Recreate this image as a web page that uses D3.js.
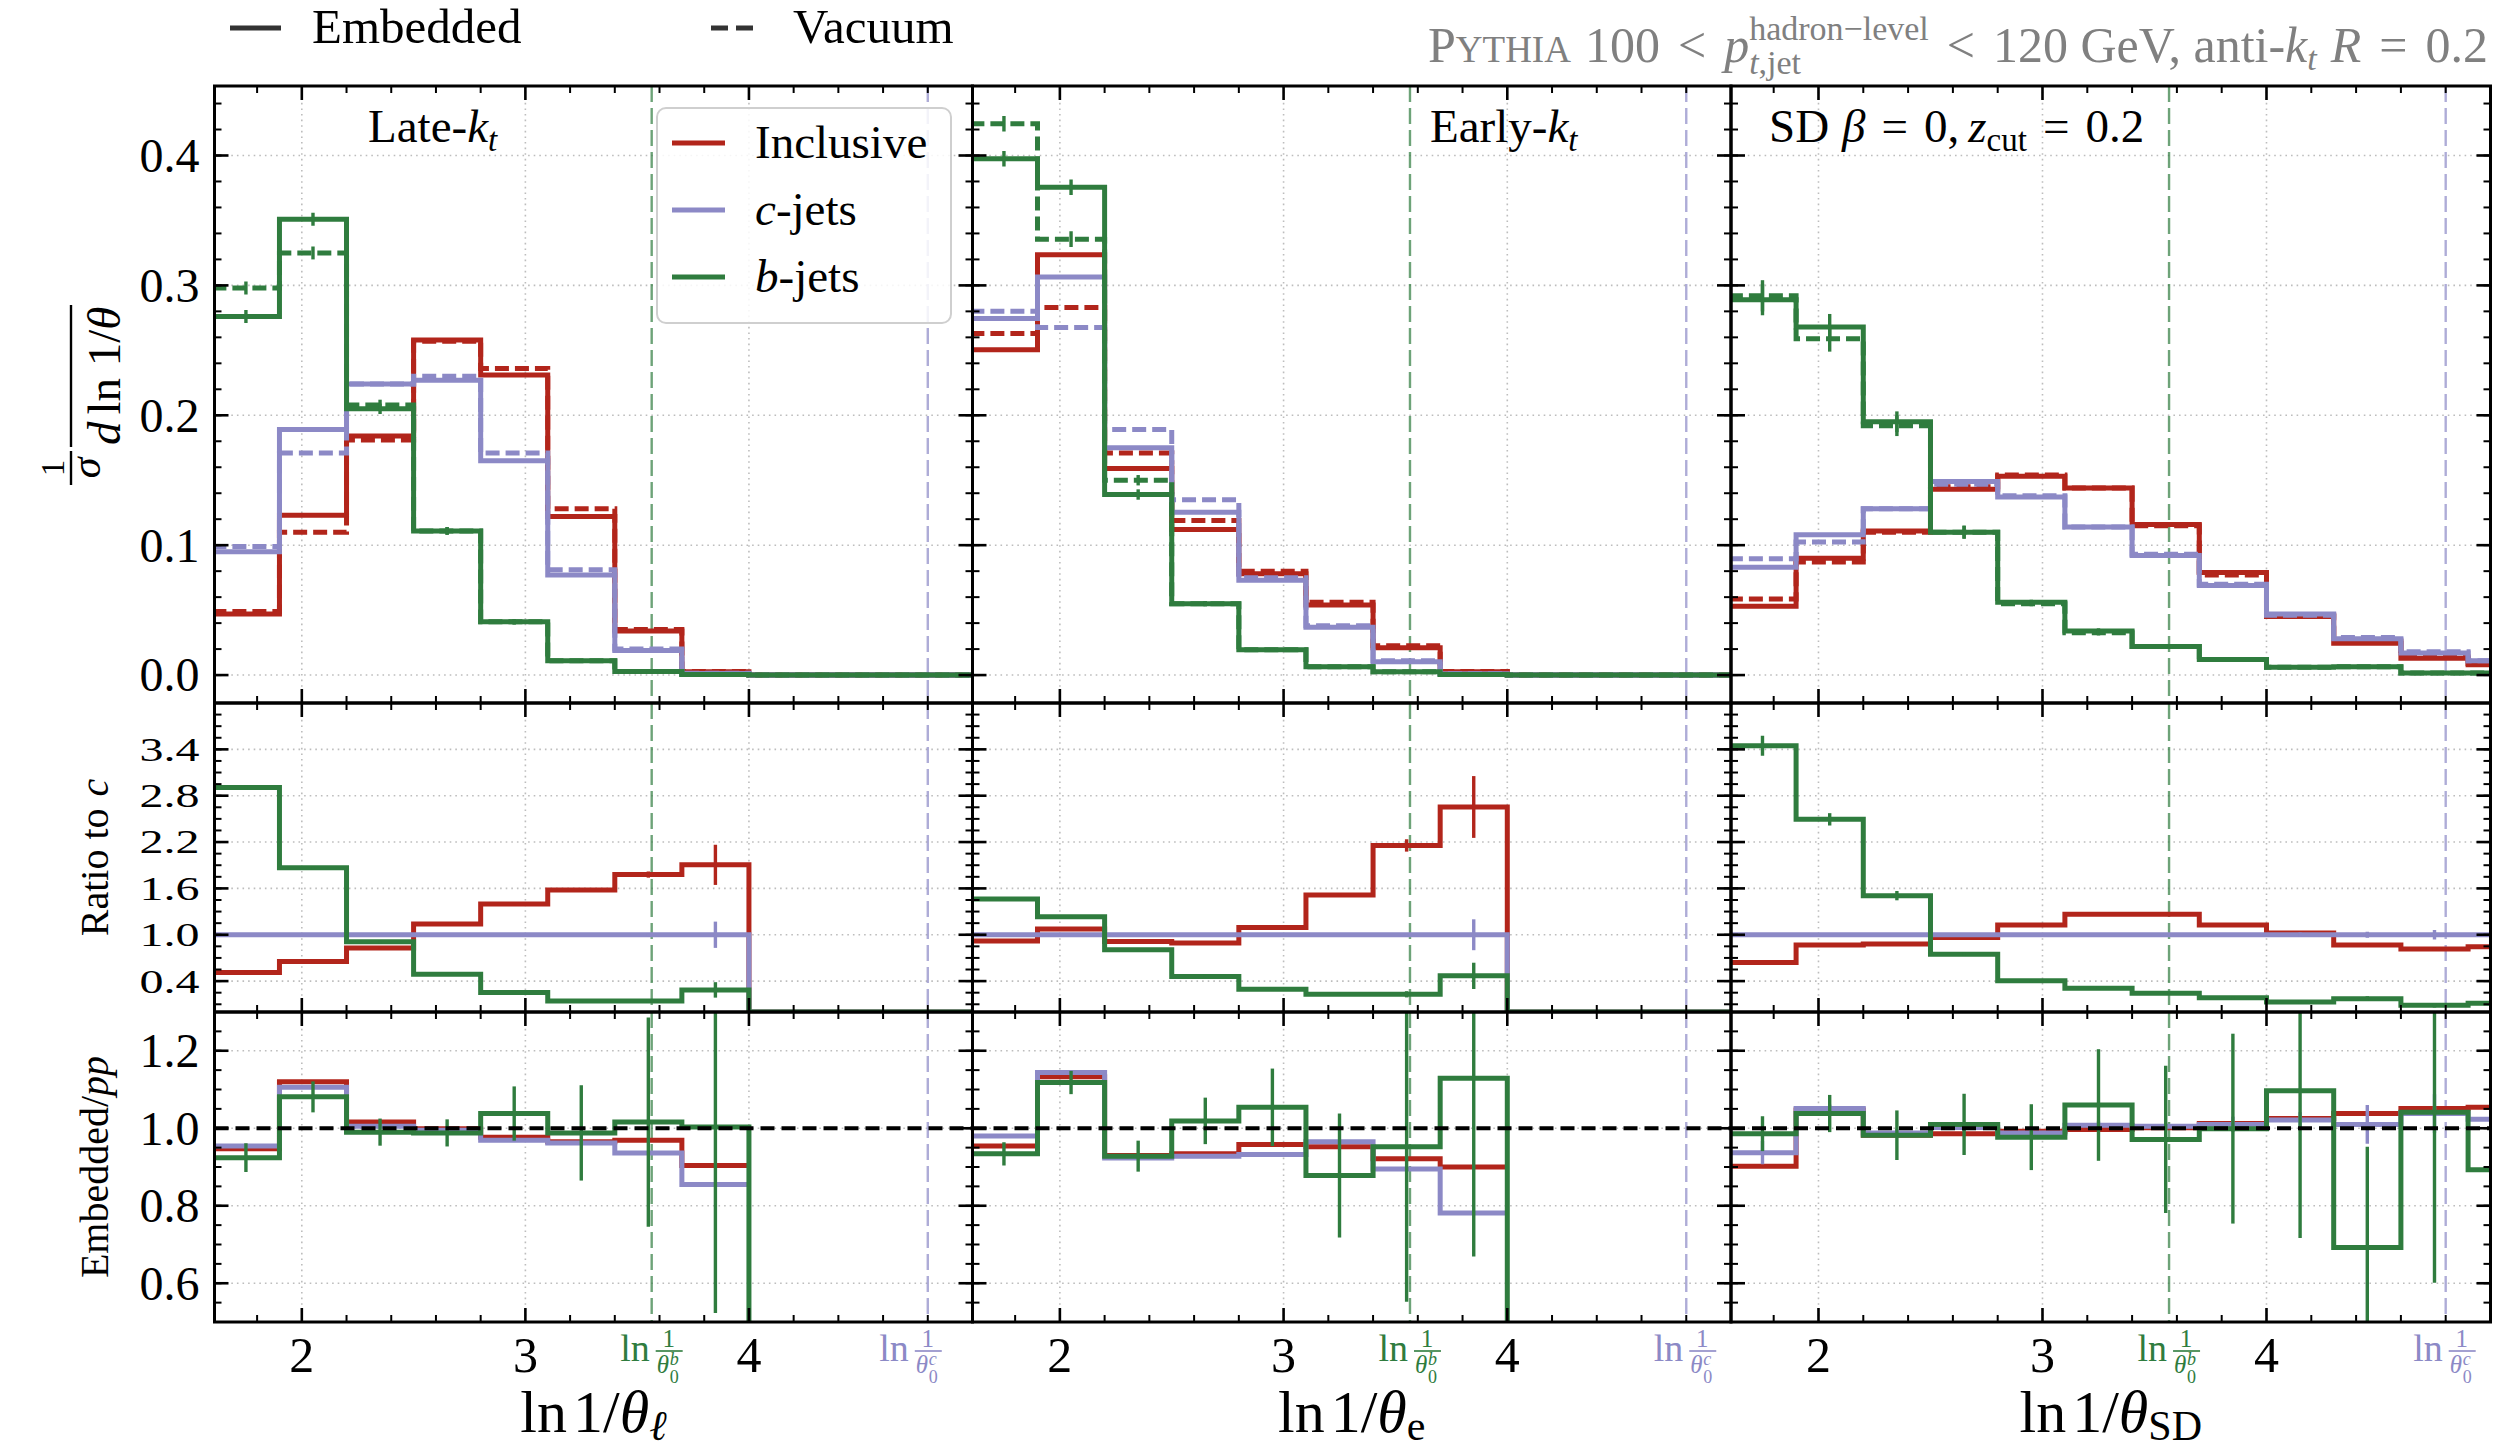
<!DOCTYPE html>
<html>
<head>
<meta charset="utf-8">
<script src="https://cdn.jsdelivr.net/npm/d3@7"></script>
<style>
  body { margin: 0; background: #fff; }
  svg { display: block; }
  text { font-family: "Liberation Serif", serif; }
</style>
</head>
<body>
<svg id="chart" width="2511" height="1455"></svg>
<script>
// bins in ln 1/theta, R = 0.2 so the axis starts at ln 5
const binEdges = [1.6, 1.9, 2.2, 2.5, 2.8, 3.1, 3.4, 3.7, 4.0, 4.3, 4.6, 4.9, 5.2];
const xDomain = [Math.log(5), 5.0];
const lnThetaB = 3.565, lnThetaC = 4.80;
const xMajor = [2, 3, 4];
const xMinor = [1.8, 2.2, 2.4, 2.6, 2.8, 3.2, 3.4, 3.6, 3.8, 4.2, 4.4, 4.6, 4.8];

// top row: normalised distributions (Embedded solid, Vacuum dashed)
const lateIncEmb  = [0.047, 0.123, 0.184, 0.258, 0.231, 0.122, 0.034, 0.0025, 0, 0, 0, 0];
const lateIncVac  = [0.049, 0.110, 0.181, 0.257, 0.236, 0.128, 0.035, 0.0027, 0, 0, 0, 0];
const lateCEmb    = [0.095, 0.189, 0.224, 0.227, 0.165, 0.077, 0.019, 0.0013, 0, 0, 0, 0];
const lateCVac    = [0.099, 0.171, 0.224, 0.230, 0.171, 0.081, 0.020, 0.0014, 0, 0, 0, 0];
const lateBEmb    = [0.276, 0.351, 0.205, 0.111, 0.041, 0.011, 0.0027, 0.0004, 0, 0, 0, 0];
const lateBVac    = [0.298, 0.325, 0.208, 0.111, 0.041, 0.011, 0.0027, 0.0004, 0, 0, 0, 0];
const lateBErr    = [0.005, 0.005, 0.004, 0.003, 0.002, 0.001, 0, 0, 0, 0, 0, 0];

const earlyIncEmb = [0.2505, 0.3235, 0.159, 0.112, 0.078, 0.054, 0.021, 0.0025, 0, 0, 0, 0];
const earlyIncVac = [0.263, 0.283, 0.171, 0.119, 0.080, 0.056, 0.0226, 0.0027, 0, 0, 0, 0];
const earlyCEmb   = [0.2746, 0.3065, 0.175, 0.1254, 0.073, 0.0368, 0.0102, 0.001, 0, 0, 0, 0];
const earlyCVac   = [0.280, 0.2675, 0.189, 0.135, 0.075, 0.038, 0.011, 0.001, 0, 0, 0, 0];
const earlyBEmb   = [0.3975, 0.3755, 0.139, 0.055, 0.0195, 0.0065, 0.0025, 0.0005, 0, 0, 0, 0];
const earlyBVac   = [0.4245, 0.3356, 0.150, 0.055, 0.0195, 0.0065, 0.0025, 0.0005, 0, 0, 0, 0];
const earlyBErr   = [0.006, 0.006, 0.004, 0.002, 0.001, 0, 0, 0, 0, 0, 0, 0];

const sdIncEmb    = [0.053, 0.090, 0.111, 0.143, 0.153, 0.144, 0.116, 0.079, 0.045, 0.0245, 0.013, 0.008];
const sdIncVac    = [0.0585, 0.087, 0.110, 0.145, 0.154, 0.144, 0.115, 0.077, 0.046, 0.026, 0.014, 0.009];
const sdCEmb      = [0.083, 0.108, 0.128, 0.149, 0.137, 0.114, 0.092, 0.069, 0.047, 0.028, 0.017, 0.011];
const sdCVac      = [0.0895, 0.1025, 0.128, 0.147, 0.138, 0.114, 0.093, 0.070, 0.046, 0.029, 0.018, 0.011];
const sdBEmb      = [0.289, 0.268, 0.195, 0.110, 0.056, 0.034, 0.022, 0.012, 0.006, 0.0065, 0.0015, 0.0015];
const sdBVac      = [0.292, 0.259, 0.192, 0.110, 0.055, 0.0325, 0.022, 0.012, 0.006, 0.0065, 0.0015, 0.0015];
const sdBErr      = [0.012, 0.010, 0.008, 0.005, 0.002, 0.002, 0.001, 0, 0, 0, 0, 0];

// middle row: ratio to c-jets
const lateRatioInc     = [0.511, 0.654, 0.827, 1.139, 1.398, 1.58, 1.779, 1.905, 0, 0, 0, 0];
const lateRatioIncErr  = [0.01, 0.01, 0.01, 0.01, 0.01, 0.02, 0.04, 0.26, 0, 0, 0, 0];
const lateRatioC       = [1, 1, 1, 1, 1, 1, 1, 1, 0, 0, 0, 0];
const lateRatioCErr    = [0, 0, 0, 0, 0, 0, 0.02, 0.17, 0, 0, 0, 0];
const lateRatioB       = [2.905, 1.866, 0.909, 0.489, 0.251, 0.143, 0.143, 0.286, 0, 0, 0, 0];
const lateRatioBErr    = [0.03, 0.02, 0.02, 0.01, 0.01, 0.01, 0.02, 0.1, 0, 0, 0, 0];

const earlyRatioInc    = [0.918, 1.074, 0.913, 0.892, 1.095, 1.515, 2.156, 2.654, 0, 0, 0, 0];
const earlyRatioIncErr = [0, 0, 0, 0, 0, 0.01, 0.08, 0.4, 0, 0, 0, 0];
const earlyRatioC      = [1, 1, 1, 1, 1, 1, 1, 1, 0, 0, 0, 0];
const earlyRatioCErr   = [0, 0, 0, 0, 0, 0, 0.02, 0.2, 0, 0, 0, 0];
const earlyRatioB      = [1.463, 1.234, 0.805, 0.459, 0.294, 0.229, 0.229, 0.468, 0, 0, 0, 0];
const earlyRatioBErr   = [0.01, 0.01, 0.01, 0.01, 0.01, 0.01, 0.04, 0.17, 0, 0, 0, 0];

const sdRatioInc       = [0.641, 0.866, 0.879, 0.965, 1.126, 1.264, 1.264, 1.126, 1.022, 0.866, 0.814, 0.844];
const sdRatioIncErr    = [0, 0, 0, 0, 0, 0, 0, 0, 0.01, 0.02, 0.02, 0.03];
const sdRatioC         = [1, 1, 1, 1, 1, 1, 1, 1, 1, 1, 1, 1];
const sdRatioCErr      = [0, 0, 0, 0, 0, 0, 0, 0, 0.03, 0.04, 0.06, 0.05];
const sdRatioB         = [3.446, 2.494, 1.506, 0.749, 0.403, 0.307, 0.242, 0.186, 0.13, 0.173, 0.087, 0.113];
const sdRatioBErr      = [0.13, 0.08, 0.06, 0.02, 0.02, 0.02, 0.02, 0.02, 0.02, 0.03, 0.03, 0.03];

// bottom row: Embedded / pp
const lateModInc  = [0.947, 1.120, 1.016, 0.999, 0.977, 0.965, 0.969, 0.904, null, null, null, null];
const lateModC    = [0.954, 1.106, 1.005, 0.995, 0.969, 0.962, 0.936, 0.855, null, null, null, null];
const lateModB    = [0.924, 1.081, 0.990, 0.988, 1.038, 0.988, 1.016, 1.003, 0, 0, 0, 0];
const lateModBErr = [0.037, 0.04, 0.035, 0.035, 0.07, 0.123, 0.27, 0.48, 0, 0, 0, 0];

const earlyModInc  = [0.954, 1.133, 0.930, 0.934, 0.958, 0.952, 0.921, 0.900, null, null, null, null];
const earlyModC    = [0.980, 1.144, 0.923, 0.928, 0.932, 0.965, 0.895, 0.781, null, null, null, null];
const earlyModB    = [0.934, 1.118, 0.928, 1.019, 1.054, 0.878, 0.952, 1.129, 0, 0, 0, 0];
const earlyModBErr = [0.03, 0.03, 0.04, 0.06, 0.1, 0.16, 0.40, 0.46, 0, 0, 0, 0];

const sdModInc  = [0.902, 1.047, 0.982, 0.986, 0.992, 0.997, 1.001, 1.012, 1.025, 1.038, 1.051, 1.054];
const sdModC    = [0.937, 1.051, 0.988, 1.002, 0.988, 1.008, 1.005, 1.010, 1.021, 1.010, 1.038, 1.023];
const sdModCErr = [0.03, 0.01, 0.01, 0.01, 0.01, 0.01, 0.01, 0.02, 0.02, 0.05, 0.05, 0.06];
const sdModB    = [0.986, 1.038, 0.982, 1.010, 0.977, 1.060, 0.971, 0.999, 1.097, 0.692, 1.041, 0.893];
const sdModBErr = [0.045, 0.048, 0.064, 0.079, 0.085, 0.144, 0.19, 0.245, 0.38, 0.26, 0.44, 0.3];

// y axes
const topMajor = [0, 0.1, 0.2, 0.3, 0.4];
const ratioMajor = [0.4, 1.0, 1.6, 2.2, 2.8, 3.4];
const modMajor = [0.6, 0.8, 1.0, 1.2];

// ---------- tables built from the arrays ----------
const topData = [
  {inc: [lateIncEmb, lateIncVac], c: [lateCEmb, lateCVac], b: [lateBEmb, lateBVac], bErr: lateBErr},
  {inc: [earlyIncEmb, earlyIncVac], c: [earlyCEmb, earlyCVac], b: [earlyBEmb, earlyBVac], bErr: earlyBErr},
  {inc: [sdIncEmb, sdIncVac], c: [sdCEmb, sdCVac], b: [sdBEmb, sdBVac], bErr: sdBErr}
];
const ratioData = [
  {inc: [lateRatioInc, lateRatioIncErr], c: [lateRatioC, lateRatioCErr], b: [lateRatioB, lateRatioBErr]},
  {inc: [earlyRatioInc, earlyRatioIncErr], c: [earlyRatioC, earlyRatioCErr], b: [earlyRatioB, earlyRatioBErr]},
  {inc: [sdRatioInc, sdRatioIncErr], c: [sdRatioC, sdRatioCErr], b: [sdRatioB, sdRatioBErr]}
];
const modData = [
  {inc: [lateModInc, null], c: [lateModC, null], b: [lateModB, lateModBErr]},
  {inc: [earlyModInc, null], c: [earlyModC, null], b: [earlyModB, earlyModBErr]},
  {inc: [sdModInc, null], c: [sdModC, sdModCErr], b: [sdModB, sdModBErr]}
];

const colInc = "#b2251b", colC = "#8c89c6", colB = "#2f7c3e";
const species = [["inc", colInc], ["c", colC], ["b", colB]];

// ---------- layout ----------
const W = 2511, H = 1455;
const colX = [214.5, 972.5, 1731, 2490.5];
const rowY = [86, 703, 1012, 1322];
const yDomains = [[-0.0215, 0.4535], [0, 4.0], [0.5, 1.3]];
const yMajors = [topMajor, ratioMajor, modMajor];
const yMinors = [d3.range(0, 0.455, 0.02), d3.range(0.1, 4.0, 0.15), d3.range(0.5, 1.31, 0.05)];
const yLabelSquash = [1, 0.7, 1]; // the ratio row tick labels are squeezed in the original
const LW = 5;

const svg = d3.select("#chart");
svg.append("rect").attr("width", W).attr("height", H).attr("fill", "#fff");
const defs = svg.append("defs");

// lays pieces of text out left to right; a piece with stack:true shares x with the next one
function rich(parent, x, y, pieces, anchor, rot) {
  const g = parent.append("g");
  let cx = 0, stackStart = null, stackW = 0;
  pieces.forEach(p => {
    if (p.gap) cx += p.gap;
    const t = g.append("text").attr("x", cx).attr("y", p.dy || 0)
      .attr("font-size", p.fs);
    if (p.ff) t.attr("font-family", p.ff);
    if (p.parts) p.parts.forEach(([s, it]) => t.append("tspan").attr("font-style", it ? "italic" : null).text(s));
    else t.text(p.t);
    if (p.it) t.attr("font-style", "italic");
    const w = t.node().getComputedTextLength();
    if (p.stack) { stackStart = cx; stackW = w; }
    else if (stackStart !== null) { cx = stackStart + Math.max(stackW, w); stackStart = null; }
    else cx += w;
  });
  const shift = anchor === "end" ? -cx : anchor === "middle" ? -cx / 2 : 0;
  g.attr("transform", rot ? `translate(${x},${y}) rotate(-90) translate(${shift},0)`
                          : `translate(${x + shift},${y})`);
  return g;
}

function stepD(vals, x, y) {
  let d = "", on = false;
  vals.forEach((v, i) => {
    if (v == null) { on = false; return; }
    const xa = x(binEdges[i]), xb = x(binEdges[i + 1]), yy = y(v);
    d += on ? `V${yy}H${xb}` : `M${xa},${yy}H${xb}`;
    on = true;
  });
  return d;
}

function errBars(g, vals, errs, x, y, color) {
  if (!errs) return;
  vals.forEach((v, i) => {
    if (v == null || !errs[i]) return;
    const xc = x((binEdges[i] + binEdges[i + 1]) / 2);
    g.append("line").attr("x1", xc).attr("x2", xc)
      .attr("y1", y(v - errs[i])).attr("y2", y(v + errs[i]))
      .attr("stroke", color).attr("stroke-width", 3.4);
  });
}

const scales = [];
for (let c = 0; c < 3; c++) {
  for (let r = 0; r < 3; r++) {
    const x = d3.scaleLinear().domain(xDomain).range([colX[c], colX[c + 1]]);
    const y = d3.scaleLinear().domain(yDomains[r]).range([rowY[r + 1], rowY[r]]);
    scales.push({c, r, x, y});
    const id = `clip${c}${r}`;
    defs.append("clipPath").attr("id", id).append("rect")
      .attr("x", colX[c]).attr("y", rowY[r])
      .attr("width", colX[c + 1] - colX[c]).attr("height", rowY[r + 1] - rowY[r]);
    const g = svg.append("g").attr("clip-path", `url(#${id})`);

    // grid
    g.selectAll(null).data(xMajor).join("line")
      .attr("x1", d => x(d)).attr("x2", d => x(d))
      .attr("y1", rowY[r]).attr("y2", rowY[r + 1])
      .attr("stroke", "#bdbdbd").attr("stroke-width", 1.6).attr("stroke-dasharray", "1.6,4");
    g.selectAll(null).data(yMajors[r]).join("line")
      .attr("x1", colX[c]).attr("x2", colX[c + 1])
      .attr("y1", d => y(d)).attr("y2", d => y(d))
      .attr("stroke", "#bdbdbd").attr("stroke-width", 1.6).attr("stroke-dasharray", "1.6,4");

    // ln 1/theta_0 markers
    [[lnThetaB, colB], [lnThetaC, colC]].forEach(([v, col]) => {
      g.append("line").attr("x1", x(v)).attr("x2", x(v))
        .attr("y1", rowY[r]).attr("y2", rowY[r + 1])
        .attr("stroke", col).attr("stroke-opacity", 0.7).attr("stroke-width", 2.4)
        .attr("stroke-dasharray", "16,6");
    });

    if (r === 0) {
      const d = topData[c];
      species.forEach(([k, col]) => {
        g.append("path").attr("d", stepD(d[k][1], x, y)).attr("fill", "none")
          .attr("stroke", col).attr("stroke-width", LW).attr("stroke-dasharray", "14,6");
        g.append("path").attr("d", stepD(d[k][0], x, y)).attr("fill", "none")
          .attr("stroke", col).attr("stroke-width", LW);
      });
      errBars(g, d.b[0], d.bErr, x, y, colB);
      errBars(g, d.b[1], d.bErr, x, y, colB);
    } else {
      const d = r === 1 ? ratioData[c] : modData[c];
      species.forEach(([k, col]) => {
        g.append("path").attr("d", stepD(d[k][0], x, y)).attr("fill", "none")
          .attr("stroke", col).attr("stroke-width", LW);
        errBars(g, d[k][0], d[k][1], x, y, col);
      });
      if (r === 2) {
        g.append("line").attr("x1", colX[c]).attr("x2", colX[c + 1])
          .attr("y1", y(1)).attr("y2", y(1))
          .attr("stroke", "#000").attr("stroke-width", 4).attr("stroke-dasharray", "14,7");
      }
    }
  }
}

// legend inside the first panel
const leg = svg.append("g");
leg.append("rect").attr("x", 657).attr("y", 108).attr("width", 294).attr("height", 215)
  .attr("rx", 9).attr("fill", "#fff").attr("fill-opacity", 0.85)
  .attr("stroke", "#cfcfcf").attr("stroke-width", 2);
const legItems = [
  [colInc, [{t: "Inclusive", fs: 47}]],
  [colC, [{t: "c", it: true, fs: 47}, {t: "-jets", fs: 47}]],
  [colB, [{t: "b", it: true, fs: 47}, {t: "-jets", fs: 47}]]
];
legItems.forEach(([col, pieces], i) => {
  const yy = 143 + i * 67;
  leg.append("line").attr("x1", 672).attr("x2", 725).attr("y1", yy).attr("y2", yy)
    .attr("stroke", col).attr("stroke-width", 5);
  rich(leg, 755, yy + 15, pieces, "start");
});

// spines and ticks
const axes = svg.append("g");
scales.forEach(({c, r, x, y}) => {
  const x0 = colX[c], x1 = colX[c + 1], y0 = rowY[r], y1 = rowY[r + 1];
  const tk = (a, b, cc, dd, w) => axes.append("line").attr("x1", a).attr("y1", b)
    .attr("x2", cc).attr("y2", dd).attr("stroke", "#000").attr("stroke-width", w);
  xMajor.forEach(v => { const p = x(v); tk(p, y1, p, y1 - 14, 2.6); tk(p, y0, p, y0 + 14, 2.6); });
  xMinor.forEach(v => { const p = x(v); tk(p, y1, p, y1 - 7, 2); tk(p, y0, p, y0 + 7, 2); });
  yMajors[r].forEach(v => { const p = y(v); tk(x0, p, x0 + 14, p, 2.6); tk(x1, p, x1 - 14, p, 2.6); });
  yMinors[r].forEach(v => { const p = y(v); if (p < y0 || p > y1) return; tk(x0, p, x0 + 7, p, 2); tk(x1, p, x1 - 7, p, 2); });
  axes.append("rect").attr("x", x0).attr("y", y0).attr("width", x1 - x0).attr("height", y1 - y0)
    .attr("fill", "none").attr("stroke", "#000").attr("stroke-width", 3);

  if (c === 0) {
    axes.selectAll(null).data(yMajors[r]).join("text")
      .attr("transform", d => `translate(${x0 - 15},${y(d)}) scale(1,${yLabelSquash[r]})`)
      .attr("dy", "0.34em")
      .attr("text-anchor", "end").attr("font-size", 48)
      .text(d => d.toFixed(1));
  }
  if (r === 2) {
    axes.selectAll(null).data(xMajor).join("text")
      .attr("x", d => x(d)).attr("y", 1372).attr("text-anchor", "middle")
      .attr("font-size", 50).text(d => d);
    // ln 1/theta_0 labels
    [[lnThetaB, colB, "b", 1], [lnThetaC, colC, "c", c === 0 ? -16 : 0]].forEach(([v, col, q, dx]) => {
      const lg = axes.append("g").attr("fill", col).attr("transform", `translate(${x(v) + dx},1361)`);
      lg.append("text").attr("x", -3).attr("text-anchor", "end").attr("font-size", 38).text("ln");
      lg.append("text").attr("x", 16).attr("y", -14).attr("text-anchor", "middle").attr("font-size", 25).text("1");
      lg.append("line").attr("x1", 3).attr("x2", 30).attr("y1", -10).attr("y2", -10)
        .attr("stroke", col).attr("stroke-width", 1.6);
      lg.append("text").attr("x", 4).attr("y", 12).attr("font-size", 25).attr("font-style", "italic").text("θ");
      lg.append("text").attr("x", 17).attr("y", 4).attr("font-size", 18).attr("font-style", "italic").text(q);
      lg.append("text").attr("x", 17).attr("y", 22).attr("font-size", 18).text("0");
    });
  }
});

// x labels
const xLabelSubs = [["ℓ", true], ["e", false], ["SD", false]];
xLabelSubs.forEach(([s, it], c) => {
  rich(svg, (colX[c] + colX[c + 1]) / 2, 1432, [
    {t: "ln", fs: 60}, {t: "1/", fs: 60, gap: 6}, {t: "θ", it: true, fs: 60},
    {t: s, it: it, fs: 42, dy: 8}
  ], "middle");
});

// panel labels
rich(svg, 368, 142, [{t: "Late-", fs: 47}, {t: "k", it: true, fs: 47}, {t: "t", it: true, fs: 33, dy: 9}], "start");
rich(svg, 1430, 142, [{t: "Early-", fs: 47}, {t: "k", it: true, fs: 47}, {t: "t", it: true, fs: 33, dy: 9}], "start");
rich(svg, 1769, 142, [
  {t: "SD", fs: 47}, {t: "β", it: true, fs: 47, gap: 13}, {t: "=", fs: 47, gap: 16}, {t: "0,", fs: 47, gap: 16},
  {t: "z", it: true, fs: 47, gap: 9}, {t: "cut", fs: 33, dy: 9}, {t: "=", fs: 47, gap: 16}, {t: "0.2", fs: 47, gap: 16}
], "start");

// y labels
const ylab = svg.append("g").attr("transform", "translate(0,395) rotate(-90)");
ylab.append("text").attr("x", -73).attr("y", 64).attr("text-anchor", "middle")
  .attr("font-family", "DejaVu Serif").attr("font-size", 33).text("1");
ylab.append("line").attr("x1", -90).attr("x2", -56).attr("y1", 71).attr("y2", 71)
  .attr("stroke", "#000").attr("stroke-width", 2.4);
ylab.append("text").attr("x", -73).attr("y", 100).attr("text-anchor", "middle")
  .attr("font-family", "DejaVu Serif").attr("font-style", "italic").attr("font-size", 42).text("σ");
ylab.append("line").attr("x1", -52).attr("x2", 90).attr("y1", 71).attr("y2", 71)
  .attr("stroke", "#000").attr("stroke-width", 2.4);
rich(ylab, 0, 0, [
  {t: "d", it: true, fs: 47, ff: "DejaVu Serif"}, {t: "ln 1/", fs: 47, gap: 7, ff: "DejaVu Serif"},
  {t: "θ", it: true, fs: 47, ff: "DejaVu Serif"}
], "start").attr("transform", "translate(-50,120)");

rich(svg, 108, 857.5, [
  {t: "Ratio to", fs: 40, ff: "DejaVu Serif"}, {t: "c", it: true, fs: 40, gap: 12, ff: "DejaVu Serif"}
], "middle", true);
rich(svg, 108, 1167, [
  {t: "Embedded/", fs: 40, ff: "DejaVu Serif"}, {t: "pp", it: true, fs: 40, ff: "DejaVu Serif"}
], "middle", true);

// style legend on top
svg.append("line").attr("x1", 230).attr("x2", 281).attr("y1", 28).attr("y2", 28)
  .attr("stroke", "#333").attr("stroke-width", 5);
svg.append("text").attr("x", 312).attr("y", 43).attr("font-size", 49).text("Embedded");
svg.append("line").attr("x1", 711).attr("x2", 759).attr("y1", 28).attr("y2", 28)
  .attr("stroke", "#333").attr("stroke-width", 5).attr("stroke-dasharray", "17,8");
svg.append("text").attr("x", 793).attr("y", 43).attr("font-size", 49).text("Vacuum");

// title
rich(svg.append("g").attr("fill", "#808080"), 2488, 62, [
  {t: "P", fs: 50}, {t: "YTHIA", fs: 37}, {t: "100", fs: 50, gap: 14}, {t: "<", fs: 50, gap: 18},
  {t: "p", it: true, fs: 50, gap: 18},
  {t: "hadron−level", fs: 34, dy: -22, stack: true},
  {parts: [["t", true], [",jet", false]], fs: 34, dy: 12},
  {t: "<", fs: 50, gap: 18}, {t: "120 GeV, anti-", fs: 50, gap: 18}, {t: "k", it: true, fs: 50},
  {t: "t", it: true, fs: 34, dy: 8}, {t: "R", it: true, fs: 50, gap: 14},
  {t: "=", fs: 50, gap: 18}, {t: "0.2", fs: 50, gap: 18}
], "end");
</script>
</body>
</html>
